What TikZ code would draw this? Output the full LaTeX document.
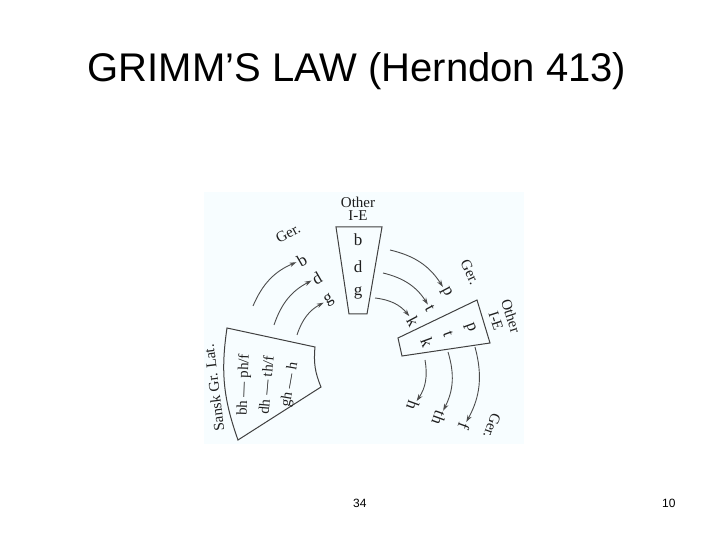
\documentclass[tikz,border=0pt]{standalone}
\usepackage{fontspec}
\setmainfont{Liberation Serif}
\newfontfamily\slidefont{Liberation Sans}
\usetikzlibrary{arrows.meta}

\begin{document}
\begin{tikzpicture}[x=1pt, y=1pt,
        ink/.style={draw=black!75, line width=1pt},
        arr/.style={draw=black!70, line width=0.9pt, -{Stealth[length=7pt, width=4.5pt]}, shorten >=1pt},
        lbl/.style={inner sep=0.5pt, text=black!88, font=\fontsize{17}{17}\selectfont},
        hdr/.style={inner sep=0pt, text=black!88, font=\fontsize{15}{15}\selectfont}]
        
        \useasboundingbox[fill=white] (0,0) rectangle (720,540);
        \fill[cyan!3] (204,96) rectangle (524,348);
        
        \node[anchor=base, inner sep=0pt] (title) at (357,458) {\slidefont\fontsize{40}{48}\selectfont GRIMM’S LAW (Herndon 413)};
        \node[anchor=base west, inner sep=0pt] (page) at (353,32) {\slidefont\fontsize{12}{14}\selectfont 34};
        \node[anchor=base west, inner sep=0pt] (num) at (662,32) {\slidefont\fontsize{12}{14}\selectfont 10};
        
        % the three groups
        \draw[ink] (336,313) -- (382,313) -- (367,226) -- (349,226) -- cycle;
        \draw[ink] (227,212) to[bend right=14] (238,100) -- (321,153) to[bend left=14] (315,193) -- cycle;
        \draw[ink] (398,202) -- (477,240) -- (490,197) -- (402,184) -- cycle;
        
        \node[hdr] (top-h1) at (358,338) {Other};
        \node[hdr] (top-h2) at (358,324) {I-E};
        \foreach \n / \y in {b/300, d/273, g/247}
            \node[lbl] (top-\n) at (358,\y) {\n};
        
        \node[hdr, rotate=97] (left-h) at (214,152) {Sansk Gr. Lat.};
        \foreach \n / \t / \x / \r in {1/{bh — ph/f}/244/88, 2/{dh — th/f}/266/85, 3/{gh — h}/290/80}
            \node[lbl, font=\fontsize{15}{15}\selectfont, rotate=\r] (left-\n) at (\x,155) {\t};
        
        \node[hdr, rotate=-72] (right-h1) at (511,224) {Other};
        \node[hdr, rotate=-72] (right-h2) at (496,219) {I-E};
        \foreach \n / \x / \y in {p/470/212, t/448/206, k/427/198}
            \node[lbl, rotate=-70] (right-\n) at (\x,\y) {\n};
        
        % Germanic results
        \node[hdr, rotate=28] (gl-h) at (288,307) {Ger.};
        \foreach \n / \x / \y in {b/302/280, d/317/262, g/329/240}
            \node[lbl, rotate=30] (gl-\n) at (\x,\y) {\n};
        
        \node[hdr, rotate=-65] (gr-h) at (470,268) {Ger.};
        \foreach \n / \x / \y in {p/446/248, t/430/232, k/413/219}
            \node[lbl, rotate=-62] (gr-\n) at (\x,\y) {\n};
        
        \node[hdr, rotate=-110] (gb-h) at (492,114) {Ger.};
        \foreach \n / \x / \y in {h/413/134, th/439/122, f/464/114}
            \node[lbl, rotate=-110] (gb-\n) at (\x,\y) {\n};
        
        % shifts
        \foreach \n / \x / \y in {l1/253/234, l2/274/215, l3/297/205,
                                  t1/390/290, t2/383/267, t3/375/242,
                                  r1/475/193, r2/448/188, r3/425/180}
            \coordinate (s-\n) at (\x,\y);
        
        \foreach \s / \e in {l1/gl-b, l2/gl-d, l3/gl-g, t1/gr-p, t2/gr-t, t3/gr-k, r1/gb-f, r2/gb-th, r3/gb-h}
            \draw[arr] (s-\s) to[bend left=22] (\e);
        
    \end{tikzpicture}
\end{document}
